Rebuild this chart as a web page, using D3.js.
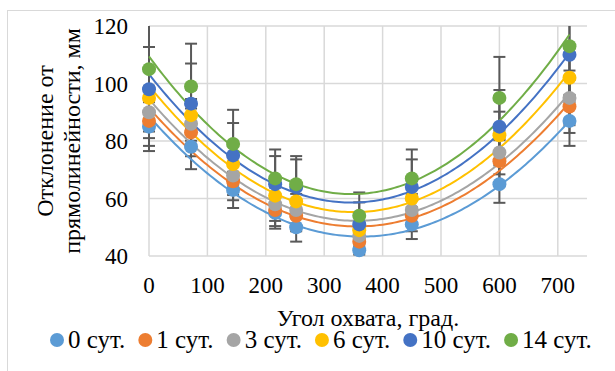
<!DOCTYPE html>
<html>
<head>
<meta charset="utf-8">
<script src="https://cdn.jsdelivr.net/npm/d3@7"></script>
<style>
body { margin: 0; background: #fff; }
text { font-family: "Liberation Serif", "Times New Roman", serif; fill: #000; }
</style>
</head>
<body>
<svg id="chart" width="615" height="371"></svg>
<script>
// angle of wrap, degrees
var angles = [0, 72, 144, 216, 252, 360, 450, 600, 720];
var seriesNames = ["0 сут.", "1 сут.", "3 сут.", "6 сут.", "10 сут.", "14 сут."];
var colors = ["#5B9BD5", "#ED7D31", "#A5A5A5", "#FFC000", "#4472C4", "#70AD47"];
var s0 = [85, 78, 63, 55, 50, 42, 51, 65, 87];
var s1 = [87, 83, 66, 56, 54, 45, 54, 73, 92];
var s3 = [90, 86, 68, 58, 56, 47, 56, 76, 95];
var s6 = [95, 89, 72, 61, 59, 49, 60, 82, 102];
var s10 = [98, 93, 75, 65, 64, 51, 64, 85, 110];
var s14 = [105, 99, 79, 67, 65, 54, 67, 95, 113];
var errPct = [0.10, 0.10, 0.10, 0.10, 0.15, 0.15];
var xTicks = [0, 100, 200, 300, 400, 500, 600, 700];
var yTicks = [40, 60, 80, 100, 120];

var values = [s0, s1, s3, s6, s10, s14];

var svg = d3.select("#chart");
var pLeft = 149, pRight = 587, pTop = 26, pBottom = 256;

var x = d3.scaleLinear().domain([0, 750]).range([pLeft, pRight]);
var y = d3.scaleLinear().domain([40, 120]).range([pBottom, pTop]);

// chart area border
svg.append("rect")
  .attr("x", 7.5).attr("y", 10.5)
  .attr("width", 640).attr("height", 420)
  .attr("fill", "none").attr("stroke", "#d9d9d9").attr("stroke-width", 1);

svg.append("clipPath").attr("id", "plotclip")
  .append("rect").attr("x", pLeft - 10).attr("y", pTop).attr("width", pRight - pLeft + 20).attr("height", pBottom - pTop);

// gridlines
var grid = svg.append("g");
grid.selectAll(".vg").data(xTicks).enter().append("line")
  .attr("x1", function(d) { return x(d); }).attr("x2", function(d) { return x(d); })
  .attr("y1", pTop).attr("y2", pBottom)
  .attr("stroke", "#d9d9d9").attr("stroke-width", 1.5);
grid.selectAll(".hg").data(yTicks).enter().append("line")
  .attr("x1", pLeft).attr("x2", pRight)
  .attr("y1", function(d) { return y(d); }).attr("y2", function(d) { return y(d); })
  .attr("stroke", "#d9d9d9").attr("stroke-width", 1.5);

// tick labels
svg.append("g").selectAll("text").data(yTicks).enter().append("text")
  .attr("x", 128).attr("y", function(d) { return y(d); })
  .attr("dy", "0.35em").attr("text-anchor", "end")
  .style("font-size", "23px").text(function(d) { return d; });
svg.append("g").selectAll("text").data(xTicks).enter().append("text")
  .attr("x", function(d) { return x(d); }).attr("y", 293)
  .attr("text-anchor", "middle")
  .style("font-size", "23px").text(function(d) { return d; });

// axis titles
svg.append("text")
  .attr("x", (pLeft + pRight) / 2).attr("y", 326)
  .attr("text-anchor", "middle").style("font-size", "24px")
  .text("Угол охвата, град.");
var yt = svg.append("text")
  .attr("transform", "translate(53," + ((pTop + pBottom) / 2) + ") rotate(-90)")
  .attr("text-anchor", "middle").style("font-size", "24px");
yt.append("tspan").attr("x", 0).attr("y", 0).text("Отклонение от");
yt.append("tspan").attr("x", 0).attr("y", 27).text("прямолинейности, мм");

// quadratic least squares fit (trendline)
function polyFit(xs, ys) {
  var n = xs.length, sx = 0, sx2 = 0, sx3 = 0, sx4 = 0, sy = 0, sxy = 0, sx2y = 0;
  for (var i = 0; i < n; i++) {
    var a = xs[i], b = ys[i];
    sx += a; sx2 += a * a; sx3 += a * a * a; sx4 += a * a * a * a;
    sy += b; sxy += a * b; sx2y += a * a * b;
  }
  var M = [[n, sx, sx2, sy], [sx, sx2, sx3, sxy], [sx2, sx3, sx4, sx2y]];
  for (var c = 0; c < 3; c++) {
    for (var r = c + 1; r < 3; r++) {
      var f = M[r][c] / M[c][c];
      for (var k = c; k < 4; k++) M[r][k] -= f * M[c][k];
    }
  }
  var coef = [0, 0, 0];
  for (var r2 = 2; r2 >= 0; r2--) {
    var s = M[r2][3];
    for (var k2 = r2 + 1; k2 < 3; k2++) s -= M[r2][k2] * coef[k2];
    coef[r2] = s / M[r2][r2];
  }
  return coef;
}

var plot = svg.append("g").attr("clip-path", "url(#plotclip)");

// error bars
values.forEach(function(vals, si) {
  var g = plot.append("g");
  var pts = angles.map(function(a, i) { return { a: a, v: vals[i], e: vals[i] * errPct[si] }; });
  g.selectAll(".eb").data(pts).enter().append("line")
    .attr("x1", function(d) { return x(d.a); }).attr("x2", function(d) { return x(d.a); })
    .attr("y1", function(d) { return y(d.v - d.e); }).attr("y2", function(d) { return y(d.v + d.e); })
    .attr("stroke", "#595959").attr("stroke-width", 2);
  g.selectAll(".cap1").data(pts).enter().append("line")
    .attr("x1", function(d) { return x(d.a) - 6; }).attr("x2", function(d) { return x(d.a) + 6; })
    .attr("y1", function(d) { return y(d.v + d.e); }).attr("y2", function(d) { return y(d.v + d.e); })
    .attr("stroke", "#595959").attr("stroke-width", 2);
  g.selectAll(".cap2").data(pts).enter().append("line")
    .attr("x1", function(d) { return x(d.a) - 6; }).attr("x2", function(d) { return x(d.a) + 6; })
    .attr("y1", function(d) { return y(d.v - d.e); }).attr("y2", function(d) { return y(d.v - d.e); })
    .attr("stroke", "#595959").attr("stroke-width", 2);
});

// markers
values.forEach(function(vals, si) {
  svg.append("g").selectAll("circle").data(vals).enter().append("circle")
    .attr("cx", function(d, i) { return x(angles[i]); })
    .attr("cy", function(d) { return y(d); })
    .attr("r", 7).attr("fill", colors[si]);
});

// trendlines
values.forEach(function(vals, si) {
  var c = polyFit(angles, vals);
  var xs = d3.range(0, 721, 5);
  var line = d3.line()
    .x(function(d) { return x(d); })
    .y(function(d) { return y(c[0] + c[1] * d + c[2] * d * d); });
  plot.append("path").datum(xs)
    .attr("d", line).attr("fill", "none")
    .attr("stroke", colors[si]).attr("stroke-width", 2);
});

// legend
var lg = svg.append("g");
var lx = 57;
seriesNames.forEach(function(name, i) {
  lg.append("circle").attr("cx", lx).attr("cy", 340).attr("r", 7).attr("fill", colors[i]);
  var t = lg.append("text").attr("x", lx + 11).attr("y", 348)
    .style("font-size", "25px").text(name);
  lx += 11 + t.node().getComputedTextLength() + 20;
});
</script>
</body>
</html>
